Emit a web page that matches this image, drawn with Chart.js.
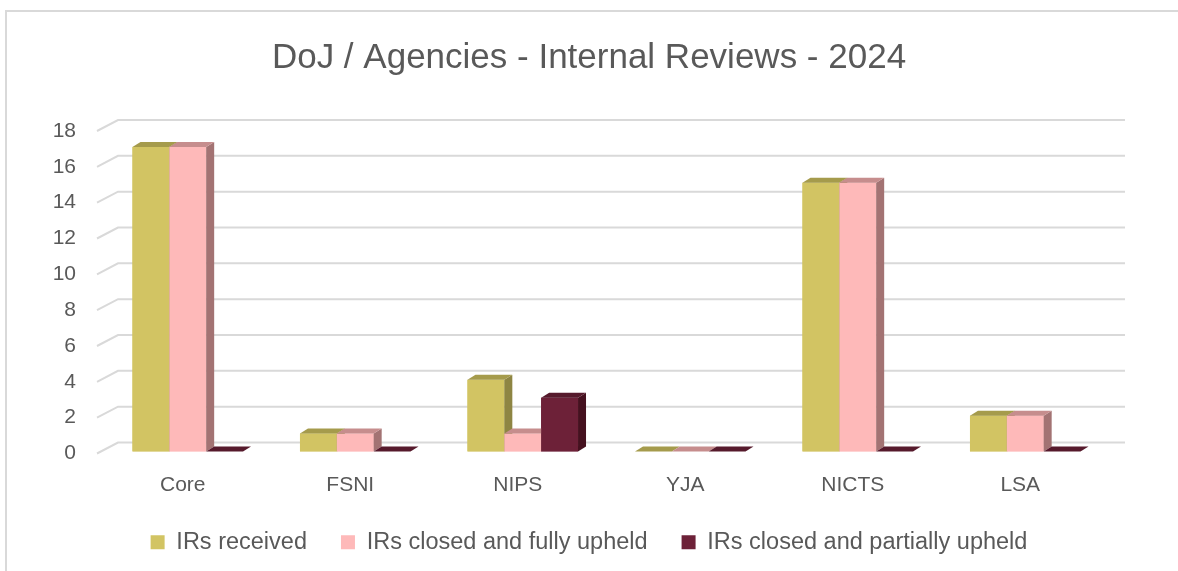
<!DOCTYPE html>
<html>
<head>
<meta charset="utf-8">
<script src="https://cdn.jsdelivr.net/npm/chart.js@4.4.1/dist/chart.umd.min.js"></script>
<style>
  html, body { margin: 0; padding: 0; background: #fff; }
  #wrap { width: 1178px; height: 571px; }
</style>
</head>
<body>
<div id="wrap"><canvas id="chart-1" width="1178" height="571"></canvas></div>
<script>
// data
const categories = ['Core', 'FSNI', 'NIPS', 'YJA', 'NICTS', 'LSA'];
const received = [17, 1, 4, 0, 15, 2];
const fullyUpheld = [17, 1, 1, 0, 15, 2];
const partiallyUpheld = [0, 0, 3, 0, 0, 0];
const seriesNames = ['IRs received', 'IRs closed and fully upheld', 'IRs closed and partially upheld'];
const yMin = 0, yMax = 18, yStep = 2;

// front / top / side colours for the fake 3D look
const faces = [
    { front: '#D2C463', top: '#A59B4C', side: '#8E8543' },
    { front: '#FEB9B9', top: '#C68D8D', side: '#A37373' },
    { front: '#6D2138', top: '#561A2C', side: '#45111F' }
];

const wallDepth = { dx: 21, dy: 11 };
const barDepth = { dx: 8, dy: 5 };
const barShift = { x: 5, y: -2 };

const fake3d = {
    id: 'fake3d',
    beforeDraw(chart) {
        const c = chart.ctx;
        c.save();
        c.strokeStyle = '#d9d9d9';
        c.lineWidth = 2;
        c.beginPath();
        c.moveTo(6, chart.height);
        c.lineTo(6, 11);
        c.lineTo(chart.width, 11);
        c.stroke();
        c.restore();
    },
    beforeDatasetsDraw(chart) {
        const c = chart.ctx;
        const area = chart.chartArea;
        const y = chart.scales.y;
        c.save();
        c.strokeStyle = '#d9d9d9';
        c.lineWidth = 2;
        y.ticks.forEach(t => {
            const py = y.getPixelForValue(t.value);
            c.beginPath();
            c.moveTo(area.left - 2, py);
            c.lineTo(area.left + wallDepth.dx - 2, py - wallDepth.dy);
            c.lineTo(area.right + wallDepth.dx, py - wallDepth.dy);
            c.stroke();
        });
        c.restore();
        c.save();
        c.translate(barShift.x, barShift.y);
    },
    afterDatasetsDraw(chart) {
        const c = chart.ctx;
        // redraw left to right so later bars cover earlier side faces
        chart.data.datasets.forEach((ds, i) => {
            const f = faces[i];
            chart.getDatasetMeta(i).data.forEach(bar => {
                const l = bar.x - bar.width / 2;
                const r = bar.x + bar.width / 2;
                const top = bar.y;
                const base = bar.base;
                if (base - top > 0.5) {
                    c.fillStyle = f.front;
                    c.fillRect(l, top, r - l, base - top);
                    c.fillStyle = f.side;
                    c.beginPath();
                    c.moveTo(r, top);
                    c.lineTo(r + barDepth.dx, top - barDepth.dy);
                    c.lineTo(r + barDepth.dx, base - barDepth.dy);
                    c.lineTo(r, base);
                    c.closePath();
                    c.fill();
                }
                c.fillStyle = f.top;
                c.beginPath();
                c.moveTo(l, top);
                c.lineTo(l + barDepth.dx, top - barDepth.dy);
                c.lineTo(r + barDepth.dx, top - barDepth.dy);
                c.lineTo(r, top);
                c.closePath();
                c.fill();
            });
        });
        c.restore();
    }
};

const ctx1 = document.getElementById('chart-1');

new Chart(ctx1, {
    type: 'bar',
    data: {
        labels: categories,
        datasets: [
            { label: seriesNames[0], data: received, backgroundColor: faces[0].front },
            { label: seriesNames[1], data: fullyUpheld, backgroundColor: faces[1].front },
            { label: seriesNames[2], data: partiallyUpheld, backgroundColor: faces[2].front }
        ]
    },
    options: {
        responsive: false,
        animation: false,
        devicePixelRatio: 1,
        categoryPercentage: 0.66,
        barPercentage: 1.0,
        borderWidth: 0,
        layout: {
            padding: { left: 0, right: 0, top: 10, bottom: 7 }
        },
        scales: {
            x: {
                grid: { display: false, drawTicks: false },
                border: { display: false },
                afterFit(scale) { scale.height = 43; },
                ticks: {
                    color: '#595959',
                    padding: 19,
                    font: { family: 'Liberation Sans', size: 21 }
                }
            },
            y: {
                min: yMin,
                max: yMax,
                grid: { display: false },
                border: { display: false },
                afterFit(scale) { scale.width = 99; },
                ticks: {
                    stepSize: yStep,
                    color: '#595959',
                    padding: 15,
                    font: { family: 'Liberation Sans', size: 21 }
                }
            },
            yRight: {
                position: 'right',
                min: yMin,
                max: yMax,
                grid: { display: false },
                border: { display: false },
                ticks: { display: false },
                afterFit(scale) { scale.width = 74; }
            }
        },
        plugins: {
            title: {
                display: true,
                text: 'DoJ / Agencies - Internal Reviews - 2024',
                color: '#595959',
                font: { family: 'Liberation Sans', size: 35, weight: 'normal' },
                padding: { top: 27, bottom: 52 }
            },
            legend: {
                position: 'bottom',
                labels: {
                    color: '#595959',
                    boxWidth: 14,
                    boxHeight: 14,
                    padding: 34,
                    font: { family: 'Liberation Sans', size: 23.5 }
                }
            },
            tooltip: { enabled: false }
        }
    },
    plugins: [fake3d]
});
</script>
</body>
</html>
